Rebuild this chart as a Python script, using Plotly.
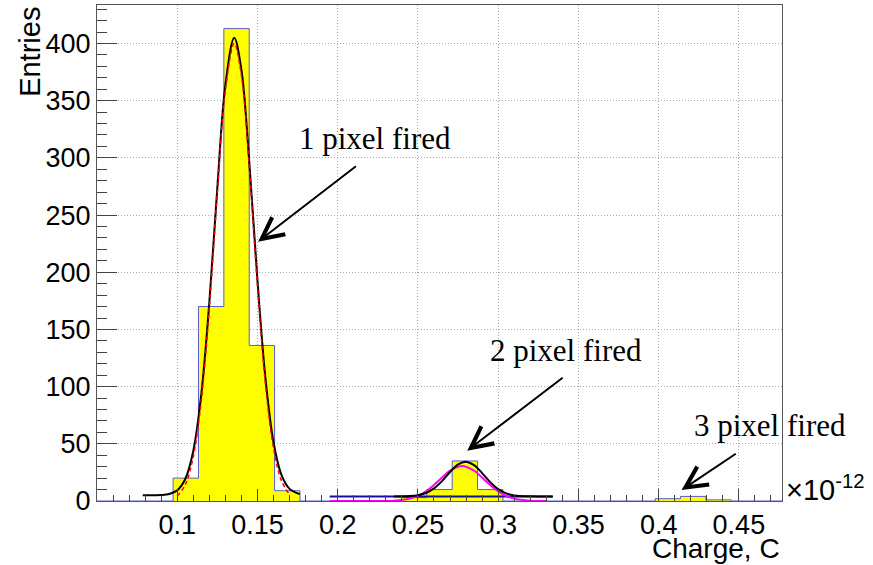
import numpy as np
import plotly.graph_objects as go

# Histogram of collected charge (units of 1e-12 C)
bin_lo = 0.05
bin_width = 0.01581
counts = [0, 0, 0, 20, 170, 413, 136, 9, 0, 0, 0, 0, 3, 10, 35, 10,
          0, 0, 0, 0, 0, 0, 2, 4, 1, 0, 0]

# Fit curves, sampled along x
fit1_x = [0.0785, 0.09, 0.095, 0.10, 0.105, 0.11, 0.115, 0.12, 0.125, 0.13,
          0.1355, 0.14, 0.145, 0.15, 0.155, 0.16, 0.165, 0.17, 0.1764]
fit1_y = [5.0, 5.2, 6.1, 9.3, 19.2, 43.7, 93.4, 173.8, 274.2, 363.8,
          405.0, 377.0, 294.2, 193.0, 107.0, 51.4, 22.6, 10.6, 6.0]

gaus1_x = [0.10, 0.105, 0.11, 0.115, 0.12, 0.125, 0.13, 0.1355, 0.14,
           0.145, 0.15, 0.155, 0.16, 0.165, 0.17]
gaus1_y = [4.3, 14.2, 38.7, 88.4, 168.8, 269.2, 358.8, 400.0, 372.0,
           289.2, 188.0, 102.0, 46.4, 17.6, 5.6]

fit2_x = [0.235, 0.245, 0.25, 0.255, 0.26, 0.265, 0.27, 0.275, 0.2797,
          0.285, 0.29, 0.295, 0.30, 0.305, 0.31, 0.32, 0.334]
fit2_y = [4.0, 4.3, 5.1, 7.0, 11.0, 17.4, 25.3, 32.0, 34.4,
          31.3, 24.4, 16.5, 10.4, 6.7, 4.9, 4.1, 4.0]

bkg2_x = [0.195, 0.334]
bkg2_y = [4.0, 4.0]

gaus2_x = [0.195, 0.22, 0.235, 0.245, 0.25, 0.255, 0.26, 0.265, 0.27,
           0.2775, 0.285, 0.29, 0.295, 0.30, 0.305, 0.31, 0.32, 0.33]
gaus2_y = [0.0, 0.0, 0.31, 2.07, 4.45, 8.42, 14.0, 20.5, 26.5,
           30.6, 26.5, 20.5, 14.0, 8.42, 4.45, 2.07, 0.31, 0.0]

x_ticks = [0.1, 0.15, 0.2, 0.25, 0.3, 0.35, 0.4, 0.45]
x_ticktext = ["0.1", "0.15", "0.2", "0.25", "0.3", "0.35", "0.4", "0.45"]
y_ticks = [0, 50, 100, 150, 200, 250, 300, 350, 400]

labels = ["1 pixel fired", "2 pixel fired", "3 pixel fired"]
label_x = [0.2231, 0.3425, 0.4697]
label_y = [317.0, 132.0, 65.6]
arrow_tip_x = [0.1504, 0.2807, 0.4143]
arrow_tip_y = [226.7, 44.0, 9.6]
arrow_tail_x = [0.2123, 0.3411, 0.4490]
arrow_tail_y = [293.7, 108.7, 42.2]

SANS = "Liberation Sans, Arial, sans-serif"
SERIF = "Liberation Serif, Times New Roman, serif"

n_bins = len(counts)
edges = bin_lo + bin_width * np.arange(n_bins + 1)
x_max = edges[-1]
y_max = 1.05 * max(counts)

# step outline of the histogram
step_x = [edges[0]] + list(edges[:-1]) + [edges[-1], edges[-1]]
step_y = [0] + list(counts) + [counts[-1], 0]

fig = go.Figure()
fig.add_trace(go.Scatter(
    x=step_x, y=step_y, mode="lines", line=dict(shape="hv", color="#5a5ad0", width=1),
    fill="tozeroy", fillcolor="#ffff00", hoverinfo="skip"))
fig.add_trace(go.Scatter(x=fit1_x, y=fit1_y, mode="lines",
                         line=dict(color="black", width=2, shape="spline", smoothing=1.0)))
fig.add_trace(go.Scatter(x=gaus1_x, y=gaus1_y, mode="lines",
                         line=dict(color="#ff0000", width=1.5, dash="4px,3px", shape="spline", smoothing=1.0)))
fig.add_trace(go.Scatter(x=bkg2_x, y=bkg2_y, mode="lines",
                         line=dict(color="#1010a0", width=2)))
fig.add_trace(go.Scatter(x=gaus2_x, y=gaus2_y, mode="lines",
                         line=dict(color="#ff00ff", width=2, shape="spline", smoothing=1.0)))
fig.add_trace(go.Scatter(x=fit2_x, y=fit2_y, mode="lines",
                         line=dict(color="black", width=2, shape="spline", smoothing=1.0)))

annotations = []
for txt, lx, ly in zip(labels, label_x, label_y):
    annotations.append(dict(x=lx, y=ly, xref="x", yref="y", text=txt, showarrow=False,
                            xanchor="center", yanchor="middle",
                            font=dict(family=SERIF, size=31, color="black")))
for tx, ty, ax_, ay_ in zip(arrow_tip_x, arrow_tip_y, arrow_tail_x, arrow_tail_y):
    annotations.append(dict(x=tx, y=ty, ax=ax_, ay=ay_, xref="x", yref="y",
                            axref="x", ayref="y", text="", showarrow=True,
                            arrowhead=5, arrowsize=2.1, arrowwidth=2,
                            arrowcolor="black", standoff=0))
annotations.append(dict(x=-0.098, y=1.0, xref="paper", yref="paper", text="Entries",
                        textangle=-90, showarrow=False, xanchor="center", yanchor="top",
                        font=dict(family=SANS, size=29, color="black")))
annotations.append(dict(x=1.0, y=-0.096, xref="paper", yref="paper", text="Charge, C",
                        showarrow=False, xanchor="right", yanchor="middle",
                        font=dict(family=SANS, size=28, color="black")))
annotations.append(dict(x=1.003, y=-0.014, xref="paper", yref="paper",
                        text="×10<sup>-12</sup>", showarrow=False,
                        xanchor="left", yanchor="bottom",
                        font=dict(family=SANS, size=29, color="black")))

axis_common = dict(showline=True, linecolor="#555555", linewidth=1, mirror=True,
                   ticks="inside", tickcolor="#444444", tickwidth=1,
                   showgrid=True, gridcolor="#aaaaaa", griddash="1px,2px", gridwidth=1,
                   zeroline=False, tickfont=dict(family=SANS, size=27, color="black"))

fig.update_layout(
    width=873, height=565,
    margin=dict(l=97, r=91, t=5, b=64),
    paper_bgcolor="white", plot_bgcolor="white",
    showlegend=False,
    annotations=annotations,
    xaxis=dict(range=[bin_lo, x_max], tickvals=x_ticks, ticktext=x_ticktext, ticklen=12,
               minor=dict(ticks="inside", ticklen=6, dtick=0.01, tick0=0.05,
                          tickcolor="#444444", showgrid=False),
               **axis_common),
    yaxis=dict(range=[0, y_max], tickvals=y_ticks, ticklen=20,
               minor=dict(ticks="inside", ticklen=10, dtick=10, tick0=0,
                          tickcolor="#444444", showgrid=False),
               **axis_common),
)

fig.write_html("out.html")
